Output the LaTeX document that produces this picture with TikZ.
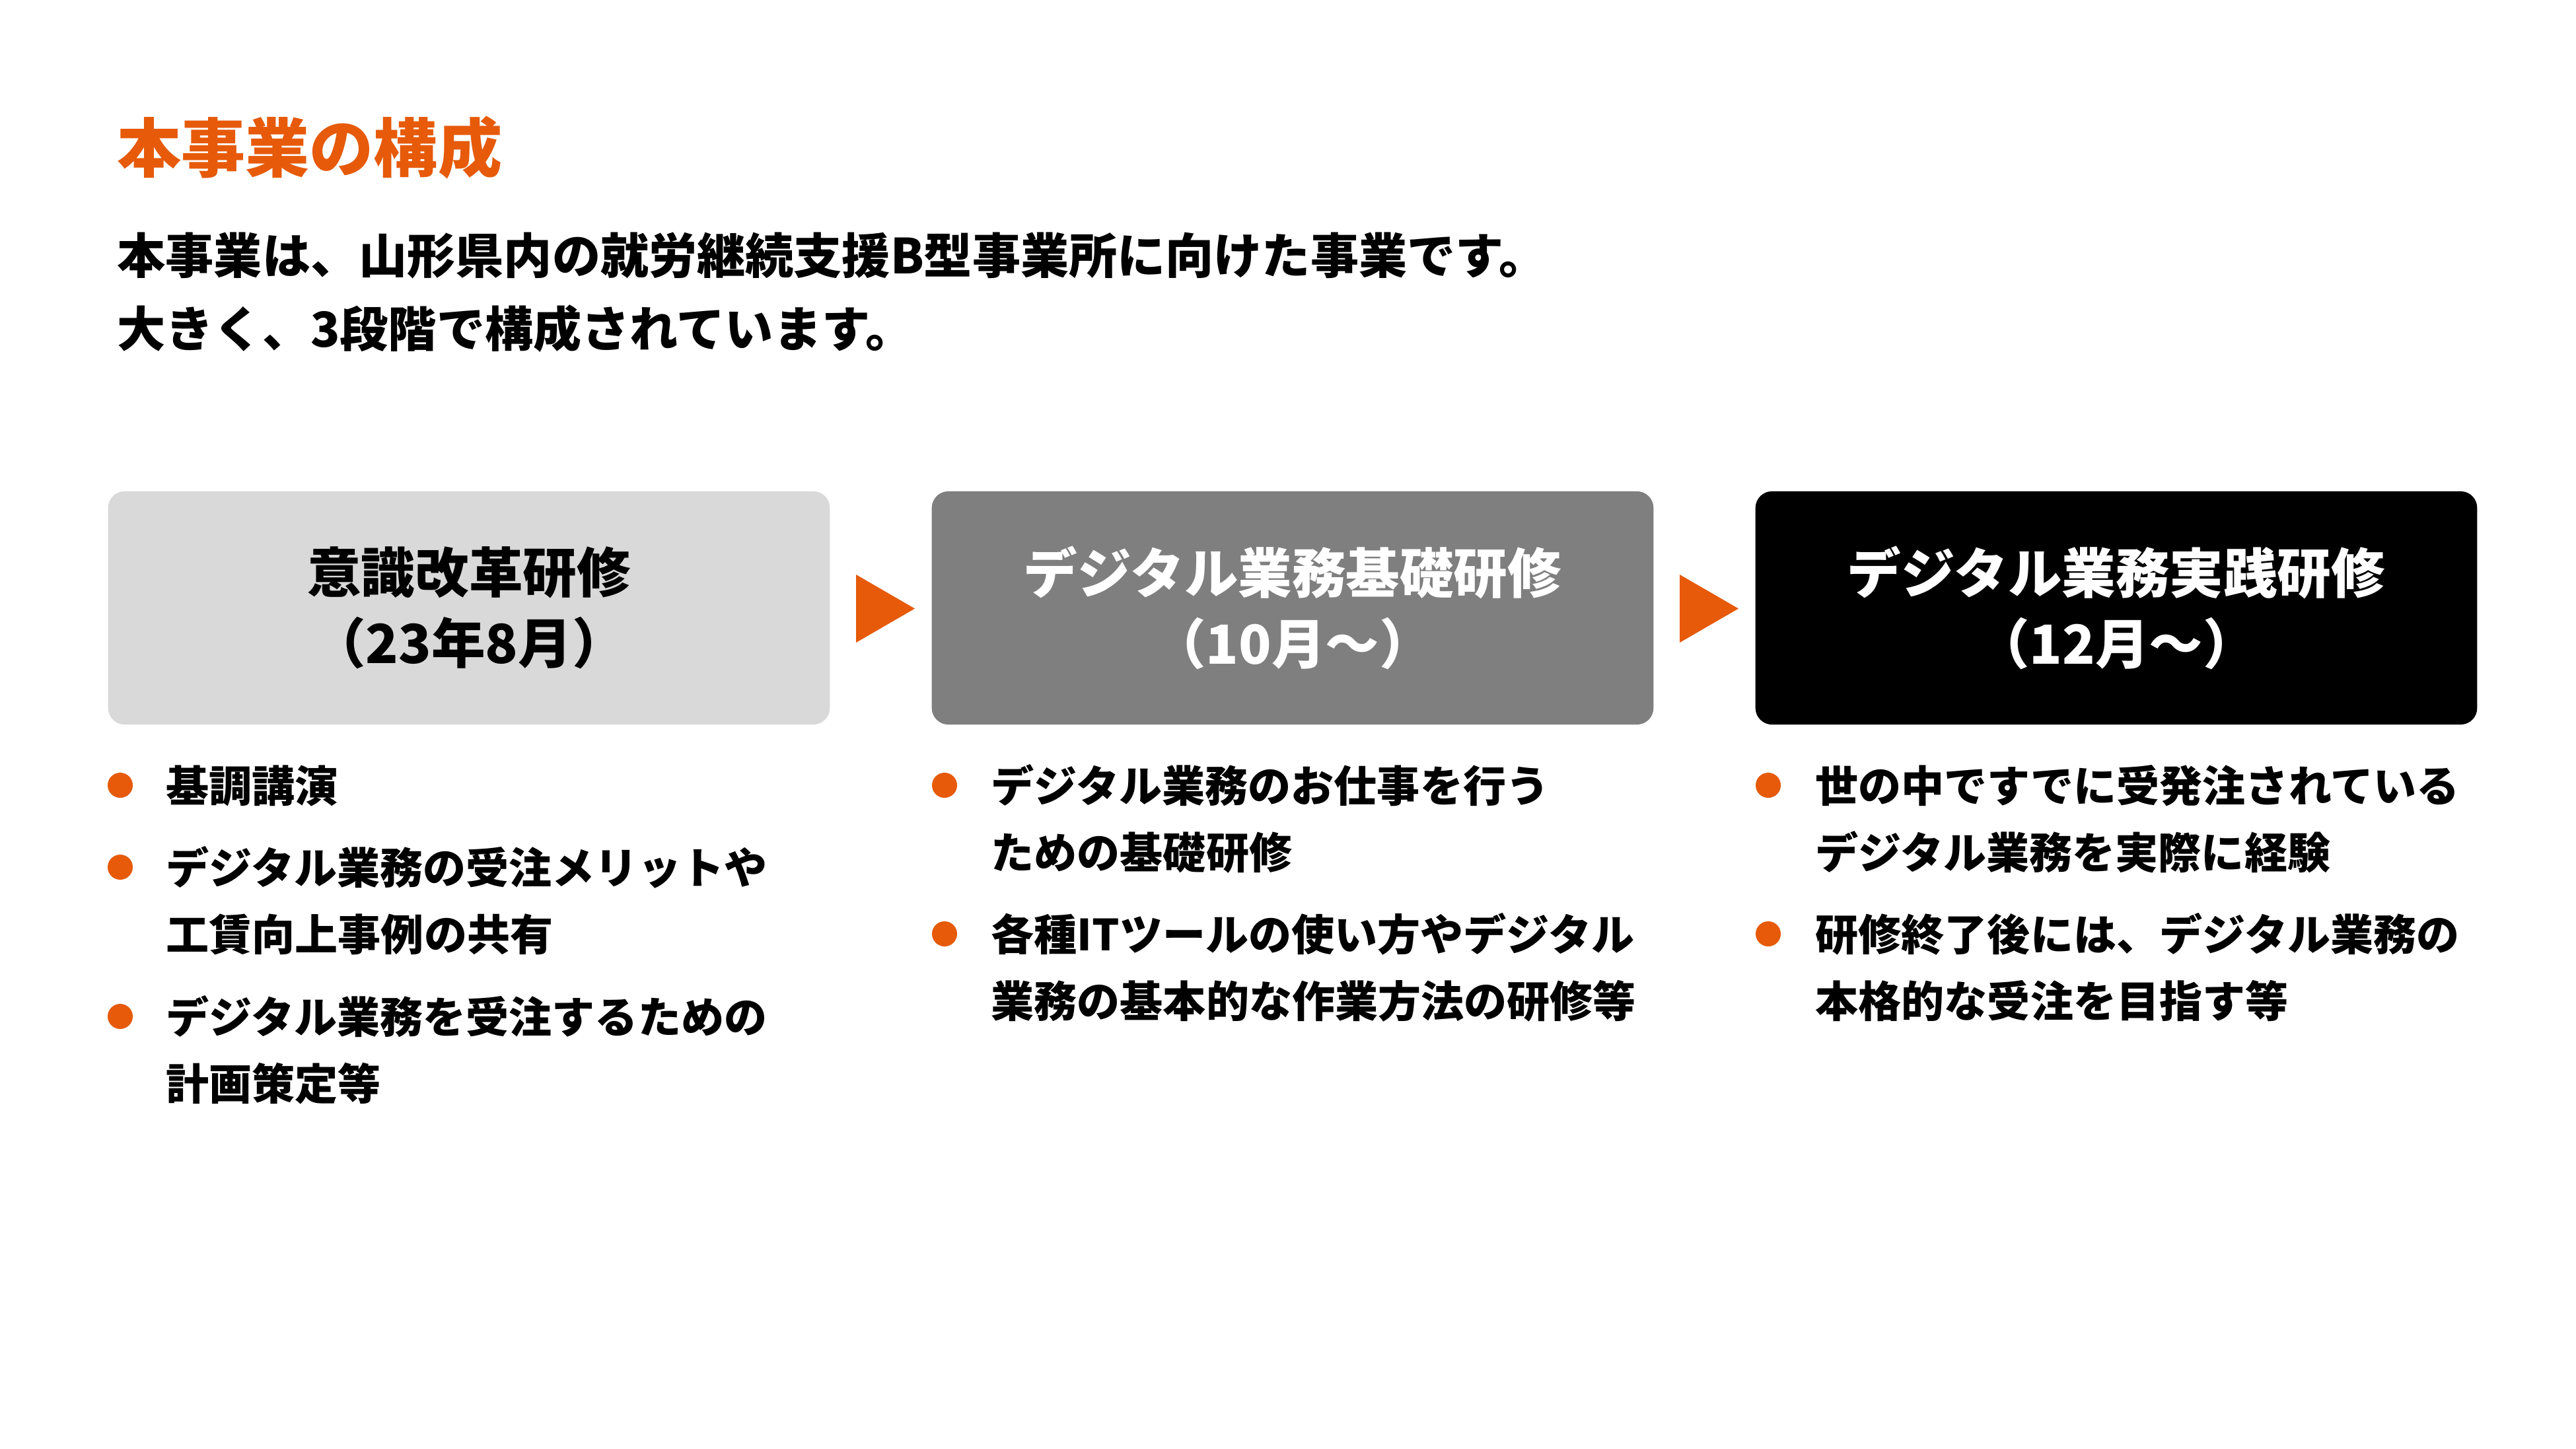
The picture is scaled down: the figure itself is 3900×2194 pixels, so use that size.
\documentclass[tikz,border=0pt]{standalone}
\usepackage{fontspec}
\setmainfont{Noto Sans CJK JP}[BoldFont={Noto Sans CJK JP Black}]
\definecolor{accent}{HTML}{E65A0A}
\definecolor{lightbox}{HTML}{D9D9D9}
\definecolor{midbox}{HTML}{7F7F7F}
\begin{document}
\begin{tikzpicture}[x=0.01cm,y=-0.01cm,
  stagebox/.style={rounded corners=0.25cm, minimum width=10.92cm, minimum height=3.53cm,
    inner sep=0pt, align=center, font=\fontsize{23.2pt}{30.4pt}\selectfont\bfseries},
  line/.style={anchor=base west, inner sep=0pt, font=\fontsize{18.5pt}{22pt}\selectfont\bfseries},
  dot/.style={circle, fill=accent, minimum size=0.38cm, inner sep=0pt},
  marker/.style={fill=accent}]
\useasboundingbox (0,0) rectangle (3900,2194);
\fill[white] (0,0) rectangle (3900,2194);

% title
\node[anchor=base west, inner sep=0pt, text=accent, font=\fontsize{27.6pt}{30pt}\selectfont\bfseries] (title) at (177,261) {本事業の構成};
\node[anchor=base west, inner sep=0pt, font=\fontsize{20.8pt}{26pt}\selectfont\bfseries] (sub1) at (177,414) {本事業は、山形県内の就労継続支援B型事業所に向けた事業です。};
\node[anchor=base west, inner sep=0pt, font=\fontsize{20.8pt}{26pt}\selectfont\bfseries] (sub2) at (177,525) {大きく、3段階で構成されています。};

% boxes
\node[stagebox, fill=lightbox, text=black] (box1) at (710,920.5) {意識改革研修\\（23年8月）};
\node[stagebox, fill=midbox, text=white] (box2) at (1957,920.5) {デジタル業務基礎研修\\（10月～）};
\node[stagebox, fill=black, text=white] (box3) at (3204,920.5) {デジタル業務実践研修\\（12月～）};

% markers
\fill[marker] (1296,870) -- (1385,921.5) -- (1296,973) -- cycle;
\fill[marker] (2543,870) -- (2632,921.5) -- (2543,973) -- cycle;

% column 1
\node[dot] (d11) at (182,1189) {};
\node[line] (l11) at (251,1214) {基調講演};
\node[dot] (d12) at (182,1313) {};
\node[line] (l12a) at (251,1338) {デジタル業務の受注メリットや};
\node[line] (l12b) at (251,1439) {工賃向上事例の共有};
\node[dot] (d13) at (182,1539) {};
\node[line] (l13a) at (251,1564) {デジタル業務を受注するための};
\node[line] (l13b) at (251,1665) {計画策定等};

% column 2
\node[dot] (d21) at (1430,1189) {};
\node[line] (l21a) at (1500,1214) {デジタル業務のお仕事を行う};
\node[line] (l21b) at (1500,1315) {ための基礎研修};
\node[dot] (d22) at (1430,1414) {};
\node[line] (l22a) at (1500,1439) {各種ITツールの使い方やデジタル};
\node[line] (l22b) at (1500,1540) {業務の基本的な作業方法の研修等};

% column 3
\node[dot] (d31) at (2677,1189) {};
\node[line] (l31a) at (2748,1214) {世の中ですでに受発注されている};
\node[line] (l31b) at (2748,1315) {デジタル業務を実際に経験};
\node[dot] (d32) at (2677,1414) {};
\node[line] (l32a) at (2748,1439) {研修終了後には、デジタル業務の};
\node[line] (l32b) at (2748,1540) {本格的な受注を目指す等};
\end{tikzpicture}
\end{document}
